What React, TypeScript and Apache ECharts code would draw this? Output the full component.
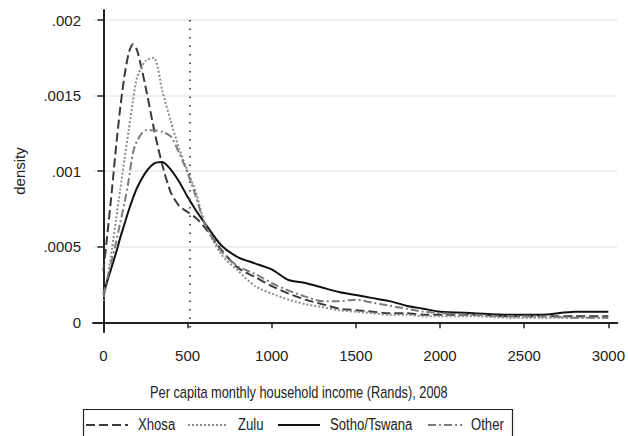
import React, { useEffect, useRef } from "react";
import * as echarts from "echarts";

const incomeGrid = [0, 25, 50, 75, 100, 125, 150, 175, 200, 250, 300, 350, 400, 450, 500, 550, 600, 700, 800, 900, 1000, 1100, 1200, 1300, 1400, 1500, 1600, 1700, 1800, 1900, 2000, 2200, 2400, 2600, 2800, 3000];

const xhosa = [0.00034, 0.0006, 0.00087, 0.00116, 0.00142, 0.00163, 0.00178, 0.00184, 0.0018, 0.00156, 0.00128, 0.00104, 0.00086, 0.00077, 0.00073, 0.00069, 0.00063, 0.00048, 0.00036, 0.0003, 0.00024, 0.00019, 0.00015, 0.00012, 0.00009, 0.00008, 0.00007, 0.00006, 0.00006, 0.00005, 0.00005, 0.00005, 0.00004, 0.00004, 0.00004, 0.00004];
const zulu = [0.00014, 0.0003, 0.00048, 0.00068, 0.00088, 0.00108, 0.00127, 0.00146, 0.00162, 0.00173, 0.00175, 0.00153, 0.00133, 0.00115, 0.001, 0.00086, 0.00066, 0.00045, 0.00034, 0.00024, 0.00019, 0.00015, 0.00012, 0.0001, 0.00008, 0.00007, 0.00006, 0.00005, 0.00005, 0.00004, 0.00004, 0.00004, 0.00003, 0.00003, 0.00003, 0.00003];
const sotho = [0.00019, 0.00028, 0.00037, 0.00046, 0.00056, 0.00065, 0.00074, 0.00082, 0.00089, 0.00099, 0.00105, 0.00106, 0.00101, 0.00093, 0.00083, 0.00074, 0.00066, 0.00051, 0.00043, 0.00039, 0.00035, 0.00028, 0.00026, 0.00023, 0.0002, 0.00018, 0.00016, 0.00014, 0.00011, 0.00009, 0.00007, 0.00006, 0.00005, 0.00005, 0.00007, 0.00007];
const other = [0.00018, 0.0003, 0.00041, 0.00053, 0.00066, 0.00079, 0.00094, 0.00112, 0.0012, 0.00127, 0.00127, 0.00126, 0.00123, 0.00112, 0.00099, 0.00083, 0.00066, 0.00047, 0.00037, 0.00032, 0.00026, 0.00021, 0.00017, 0.00014, 0.00014, 0.00015, 0.00013, 0.00011, 0.00009, 0.00007, 0.00006, 0.00005, 0.00004, 0.00004, 0.00003, 0.00003];

const xTicks = [0, 500, 1000, 1500, 2000, 2500, 3000];
const yTicks = [0, 0.0005, 0.001, 0.0015, 0.002];
const yTickLabels = ["0", ".0005", ".001", ".0015", ".002"];
const referenceIncome = 515;

const seriesNames = ["Xhosa", "Zulu", "Sotho/Tswana", "Other"];
const seriesColors = ["#3a3a3a", "#8c8c8c", "#111111", "#7c7c7c"];
const seriesDashes: (number[] | null)[] = [[9, 4], [2, 2], null, [8, 3, 2, 3]];

const FONT = "'Liberation Sans', Arial, sans-serif";

export default function App() {
  const ref = useRef<HTMLDivElement>(null);
  useEffect(() => {
    if (!ref.current) return;
    const chart = echarts.init(ref.current, null, { renderer: "svg" });
    const pairs = (ys: number[]) => incomeGrid.map((x, i) => [x, ys[i]]);
    const allValues = [xhosa, zulu, sotho, other];
    const series: any[] = seriesNames.map((name, k) => ({
      name,
      type: "line",
      data: pairs(allValues[k]),
      symbol: "none",
      smooth: 0.25,
      lineStyle: { color: seriesColors[k], type: seriesDashes[k] || "solid", width: 2 },
      itemStyle: { color: seriesColors[k] },
      z: 3,
    }));
    series[0].markLine = {
      silent: true,
      symbol: "none",
      label: { show: false },
      lineStyle: { color: "#555", type: [1.5, 7], width: 2 },
      data: [[{ coord: [referenceIncome, 0.002] }, { coord: [referenceIncome, -0.00004] }]],
    };

    // legend drawn as graphics (Stata-style boxed legend)
    const legendLines = [
      [86, 128],
      [188, 228],
      [278, 320],
      [428, 462],
    ];
    const legendTextX = [138, 238, 330, 471];
    const legendY = 425;
    const legendGraphics: any[] = [
      {
        type: "rect",
        shape: { x: 83.5, y: 409.5, width: 429, height: 40 },
        style: { fill: "#fff", stroke: "#222", lineWidth: 1.2 },
        z: 10,
      },
    ];
    seriesNames.forEach((name, k) => {
      legendGraphics.push({
        type: "line",
        shape: { x1: legendLines[k][0], y1: legendY, x2: legendLines[k][1], y2: legendY },
        style: { stroke: seriesColors[k], lineWidth: 2, lineDash: seriesDashes[k] || undefined },
        z: 11,
      });
      legendGraphics.push({
        type: "text",
        x: legendTextX[k],
        y: legendY,
        scaleX: 0.82,
        style: {
          text: name,
          fontSize: 16,
          fontFamily: FONT,
          fill: "#222",
          textAlign: "left",
          textVerticalAlign: "middle",
        },
        z: 11,
      });
    });

    chart.setOption({
      animation: false,
      backgroundColor: "#fff",
      textStyle: { fontFamily: FONT },
      grid: { left: 93, right: 9, top: 10, bottom: 104 },
      xAxis: {
        type: "value",
        min: -62,
        max: 3053,
        axisLine: { show: true, lineStyle: { color: "#222", width: 2 } },
        axisTick: { show: true, length: 6, customValues: xTicks, lineStyle: { color: "#222", width: 1.5 } },
        axisLabel: {
          customValues: xTicks,
          margin: 16,
          fontSize: 15,
          color: "#222",
          fontFamily: FONT,
          formatter: (v: number) => String(Math.round(v)),
        },
        splitLine: { show: false },
      },
      yAxis: {
        type: "value",
        min: -0.0000642,
        max: 0.0020662,
        name: "density",
        nameLocation: "middle",
        nameGap: 66,
        nameTextStyle: { fontSize: 15, color: "#222", fontFamily: FONT },
        axisLine: { show: true, lineStyle: { color: "#222", width: 2 } },
        axisTick: { show: true, length: 6, customValues: yTicks, lineStyle: { color: "#222", width: 1.5 } },
        axisLabel: {
          customValues: yTicks,
          margin: 12,
          fontSize: 15,
          color: "#222",
          fontFamily: FONT,
          formatter: (v: number) => {
            const i = yTicks.findIndex((t) => Math.abs(t - v) < 1e-9);
            return i >= 0 ? yTickLabels[i] : "";
          },
        },
        splitLine: { show: true, lineStyle: { color: "#e8e8e8", width: 1.5 } },
      },
      graphic: [
        {
          type: "text",
          x: 150,
          y: 392,
          scaleX: 0.8,
          style: {
            text: "Per capita monthly household income (Rands), 2008",
            fontSize: 16,
            fontFamily: FONT,
            fill: "#222",
            textAlign: "left",
            textVerticalAlign: "middle",
          },
        },
        ...legendGraphics,
      ],
      series,
    });
    return () => chart.dispose();
  }, []);
  return <div ref={ref} style={{ width: 628, height: 436, position: "absolute", left: 0, top: 0 }} />;
}
